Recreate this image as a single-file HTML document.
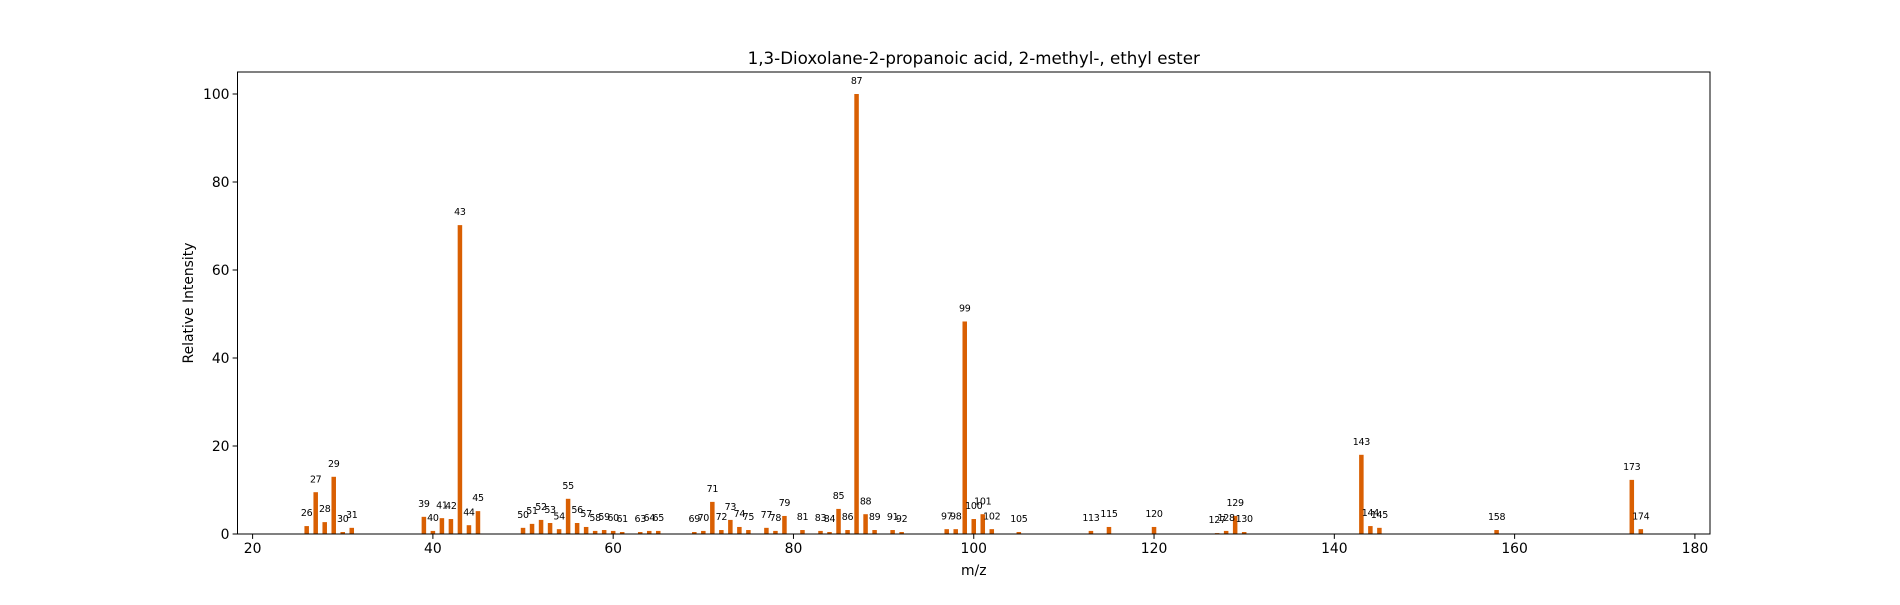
<!DOCTYPE html>
<html><head><meta charset="utf-8"><style>
body{margin:0;background:#fff}
svg{font-family:"DejaVu Sans","Liberation Sans",sans-serif}
</style></head><body>
<svg id="chart" width="1900" height="600" viewBox="0 0 1900 600" xmlns="http://www.w3.org/2000/svg">
<rect width="1900" height="600" fill="#fff"/>
<g id="bars"></g>
<g id="labels"></g>
<g id="axes"></g>
<text x="973.75" y="64" text-anchor="middle" font-size="16.7">1,3-Dioxolane-2-propanoic acid, 2-methyl-, ethyl ester</text>
<text x="973.75" y="575" text-anchor="middle" font-size="13.9">m/z</text>
<text x="0" y="0" transform="translate(193,303) rotate(-90)" text-anchor="middle" font-size="13.9">Relative Intensity</text>
</svg>
<script>
const mz = [26,27,28,29,30,31,39,40,41,42,43,44,45,50,51,52,53,54,55,56,57,58,59,60,61,63,64,65,69,70,71,72,73,74,75,77,78,79,81,83,84,85,86,87,88,89,91,92,97,98,99,100,101,102,105,113,115,120,127,128,129,130,143,144,145,158,173,174];
const intensity = [1.8,9.5,2.7,13.0,0.45,1.4,3.9,0.7,3.6,3.4,70.2,2.0,5.2,1.4,2.3,3.2,2.5,1.1,8.0,2.5,1.6,0.7,0.9,0.7,0.45,0.45,0.7,0.7,0.45,0.7,7.3,0.9,3.2,1.6,0.9,1.4,0.7,4.1,0.9,0.7,0.45,5.7,0.9,100,4.5,0.9,0.9,0.45,1.1,1.1,48.3,3.4,4.5,1.1,0.45,0.7,1.6,1.6,0.2,0.7,4.1,0.45,18.0,1.8,1.4,0.9,12.3,1.1];
const xTicks = [20,40,60,80,100,120,140,160,180];
const yTicks = [0,20,40,60,80,100];

const NS="http://www.w3.org/2000/svg";
const L=237.5,R=1710,T=72,B=534;
const bw=0.5;
const xmin=Math.min(...mz)-bw/2, xmax=Math.max(...mz)+bw/2, xm=(xmax-xmin)*0.05;
const x0=xmin-xm, x1=xmax+xm;
const ymax=Math.max(...intensity)*1.05;
const X=v=>L+(v-x0)/(x1-x0)*(R-L);
const Y=v=>B-v/ymax*(B-T);
function mk(tag,attrs,parent){const e=document.createElementNS(NS,tag);for(const k in attrs)e.setAttribute(k,attrs[k]);parent.appendChild(e);return e;}
const gb=document.getElementById('bars'),gl=document.getElementById('labels'),ga=document.getElementById('axes');
mz.forEach((m,i)=>{
  const r=mk('rect',{x:X(m-bw/2),y:Y(intensity[i]),width:X(m+bw/2)-X(m-bw/2),height:B-Y(intensity[i]),fill:'#d95f02'},gb);
  
  
  const t=mk('text',{x:X(m),y:Y(intensity[i]+1)-5.5,'text-anchor':'middle','font-size':'9.5',fill:'#000','letter-spacing':'-0.3'},gl);
  t.textContent=String(m);
  
  
});
const frame=mk('rect',{x:L,y:T,width:R-L,height:B-T,fill:'none',stroke:'#000','stroke-width':1},ga);


xTicks.forEach(v=>{
  const x=X(v);
  const tk=mk('line',{x1:x,x2:x,y1:B,y2:B+4.9,stroke:'#000','stroke-width':1},ga);
  
  
  const t=mk('text',{x:x,y:B+19,'text-anchor':'middle','font-size':'13.9'},ga);
  t.textContent=v;
  
  
});
yTicks.forEach(v=>{
  const y=Y(v);
  const tk=mk('line',{x1:L-4.9,x2:L,y1:y,y2:y,stroke:'#000','stroke-width':1},ga);
  
  
  const t=mk('text',{x:L-8,y:y+5,'text-anchor':'end','font-size':'13.9'},ga);
  t.textContent=v;
  
  
});
</script>
</body></html>
